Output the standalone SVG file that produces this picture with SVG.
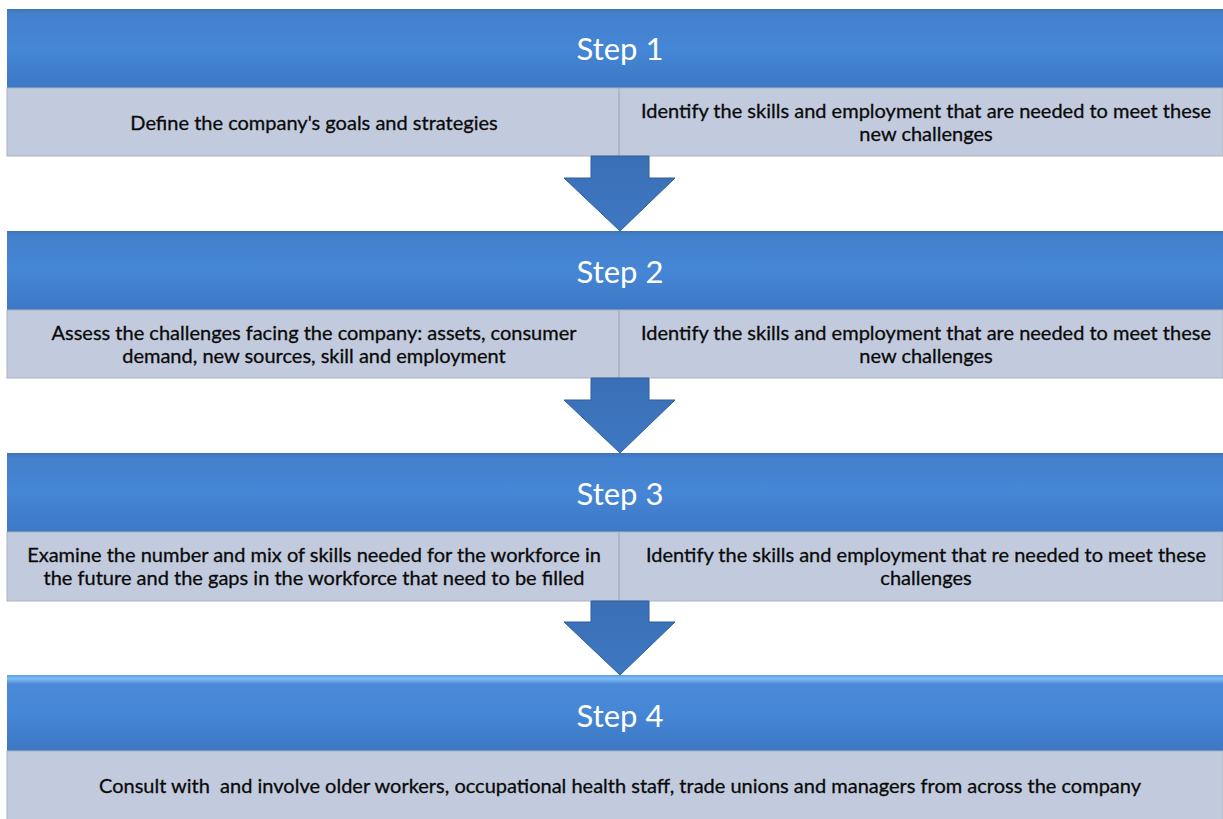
<svg xmlns="http://www.w3.org/2000/svg" width="1223" height="819" viewBox="0 0 1223 819">
<defs>
<linearGradient id="hdr" x1="0" y1="0" x2="0" y2="1">
<stop offset="0" stop-color="#3f74b8"/>
<stop offset="0.06" stop-color="#4480cc"/>
<stop offset="0.5" stop-color="#4586d6"/>
<stop offset="1" stop-color="#3d78c4"/>
</linearGradient>
<linearGradient id="hdr4" x1="0" y1="0" x2="0" y2="1">
<stop offset="0" stop-color="#5a9ee6"/>
<stop offset="0.05" stop-color="#7fbcf4"/>
<stop offset="0.12" stop-color="#4a8ad8"/>
<stop offset="0.5" stop-color="#4586d6"/>
<stop offset="1" stop-color="#3d78c4"/>
</linearGradient>
<linearGradient id="arr" x1="0" y1="0" x2="0" y2="1">
<stop offset="0" stop-color="#3a6fb6"/>
<stop offset="1" stop-color="#3e78c2"/>
</linearGradient>
<style>
.body{fill:#c2cbdd;stroke:#a9b2c3;stroke-width:1}
.div{stroke:#adb6c6;stroke-width:2}
.title{font-family:Lato,"Liberation Sans",sans-serif;font-size:31px;fill:#ffffff;text-anchor:middle}
.txt{font-family:Lato,"Liberation Sans",sans-serif;font-size:20px;fill:#0a0a0a;stroke:#0a0a0a;stroke-width:0.3;text-anchor:middle}
.arrow{fill:url(#arr);stroke:#2f5f9e;stroke-width:1}
</style>
</defs>
<rect width="1223" height="819" fill="#ffffff"/>
<g id="step1">
<rect x="7" y="9" width="1216" height="79" fill="url(#hdr)"/>
<rect class="body" x="7" y="88" width="1216" height="68"/>
<line class="div" x1="619" y1="88" x2="619" y2="156"/>
<text class="title" x="620" y="60">Step 1</text>
<text class="txt" x="314" y="130">Define the company's goals and strategies</text>
<text class="txt" x="926" y="118">Identify the skills and employment that are needed to meet these</text>
<text class="txt" x="926" y="141">new challenges</text>
</g>
<g id="step2">
<rect x="7" y="231" width="1216" height="79" fill="url(#hdr)"/>
<rect class="body" x="7" y="310" width="1216" height="68"/>
<line class="div" x1="619" y1="310" x2="619" y2="378"/>
<text class="title" x="620" y="283">Step 2</text>
<text class="txt" x="314" y="340">Assess the challenges facing the company: assets, consumer</text>
<text class="txt" x="314" y="363">demand, new sources, skill and employment</text>
<text class="txt" x="926" y="340">Identify the skills and employment that are needed to meet these</text>
<text class="txt" x="926" y="363">new challenges</text>
</g>
<g id="step3">
<rect x="7" y="453" width="1216" height="79" fill="url(#hdr)"/>
<rect class="body" x="7" y="532" width="1216" height="69"/>
<line class="div" x1="619" y1="532" x2="619" y2="601"/>
<text class="title" x="620" y="505">Step 3</text>
<text class="txt" x="314" y="562">Examine the number and mix of skills needed for the workforce in</text>
<text class="txt" x="314" y="585">the future and the gaps in the workforce that need to be filled</text>
<text class="txt" x="926" y="562">Identify the skills and employment that re needed to meet these</text>
<text class="txt" x="926" y="585">challenges</text>
</g>
<g id="step4">
<rect x="7" y="675" width="1216" height="76" fill="url(#hdr4)"/>
<rect class="body" x="7" y="751" width="1216" height="70"/>
<text class="title" x="620" y="727">Step 4</text>
<text class="txt" x="620" y="793" xml:space="preserve">Consult with  and involve older workers, occupational health staff, trade unions and managers from across the company</text>
</g>
<g id="connectors">
<polygon class="arrow" points="591,156 649,156 649,178 675,178 620,231 564,178 591,178"/>
<polygon class="arrow" points="591,378 649,378 649,400 675,400 620,453 564,400 591,400"/>
<polygon class="arrow" points="591,601 649,601 649,622 675,622 620,675 564,622 591,622"/>
</g>
</svg>
